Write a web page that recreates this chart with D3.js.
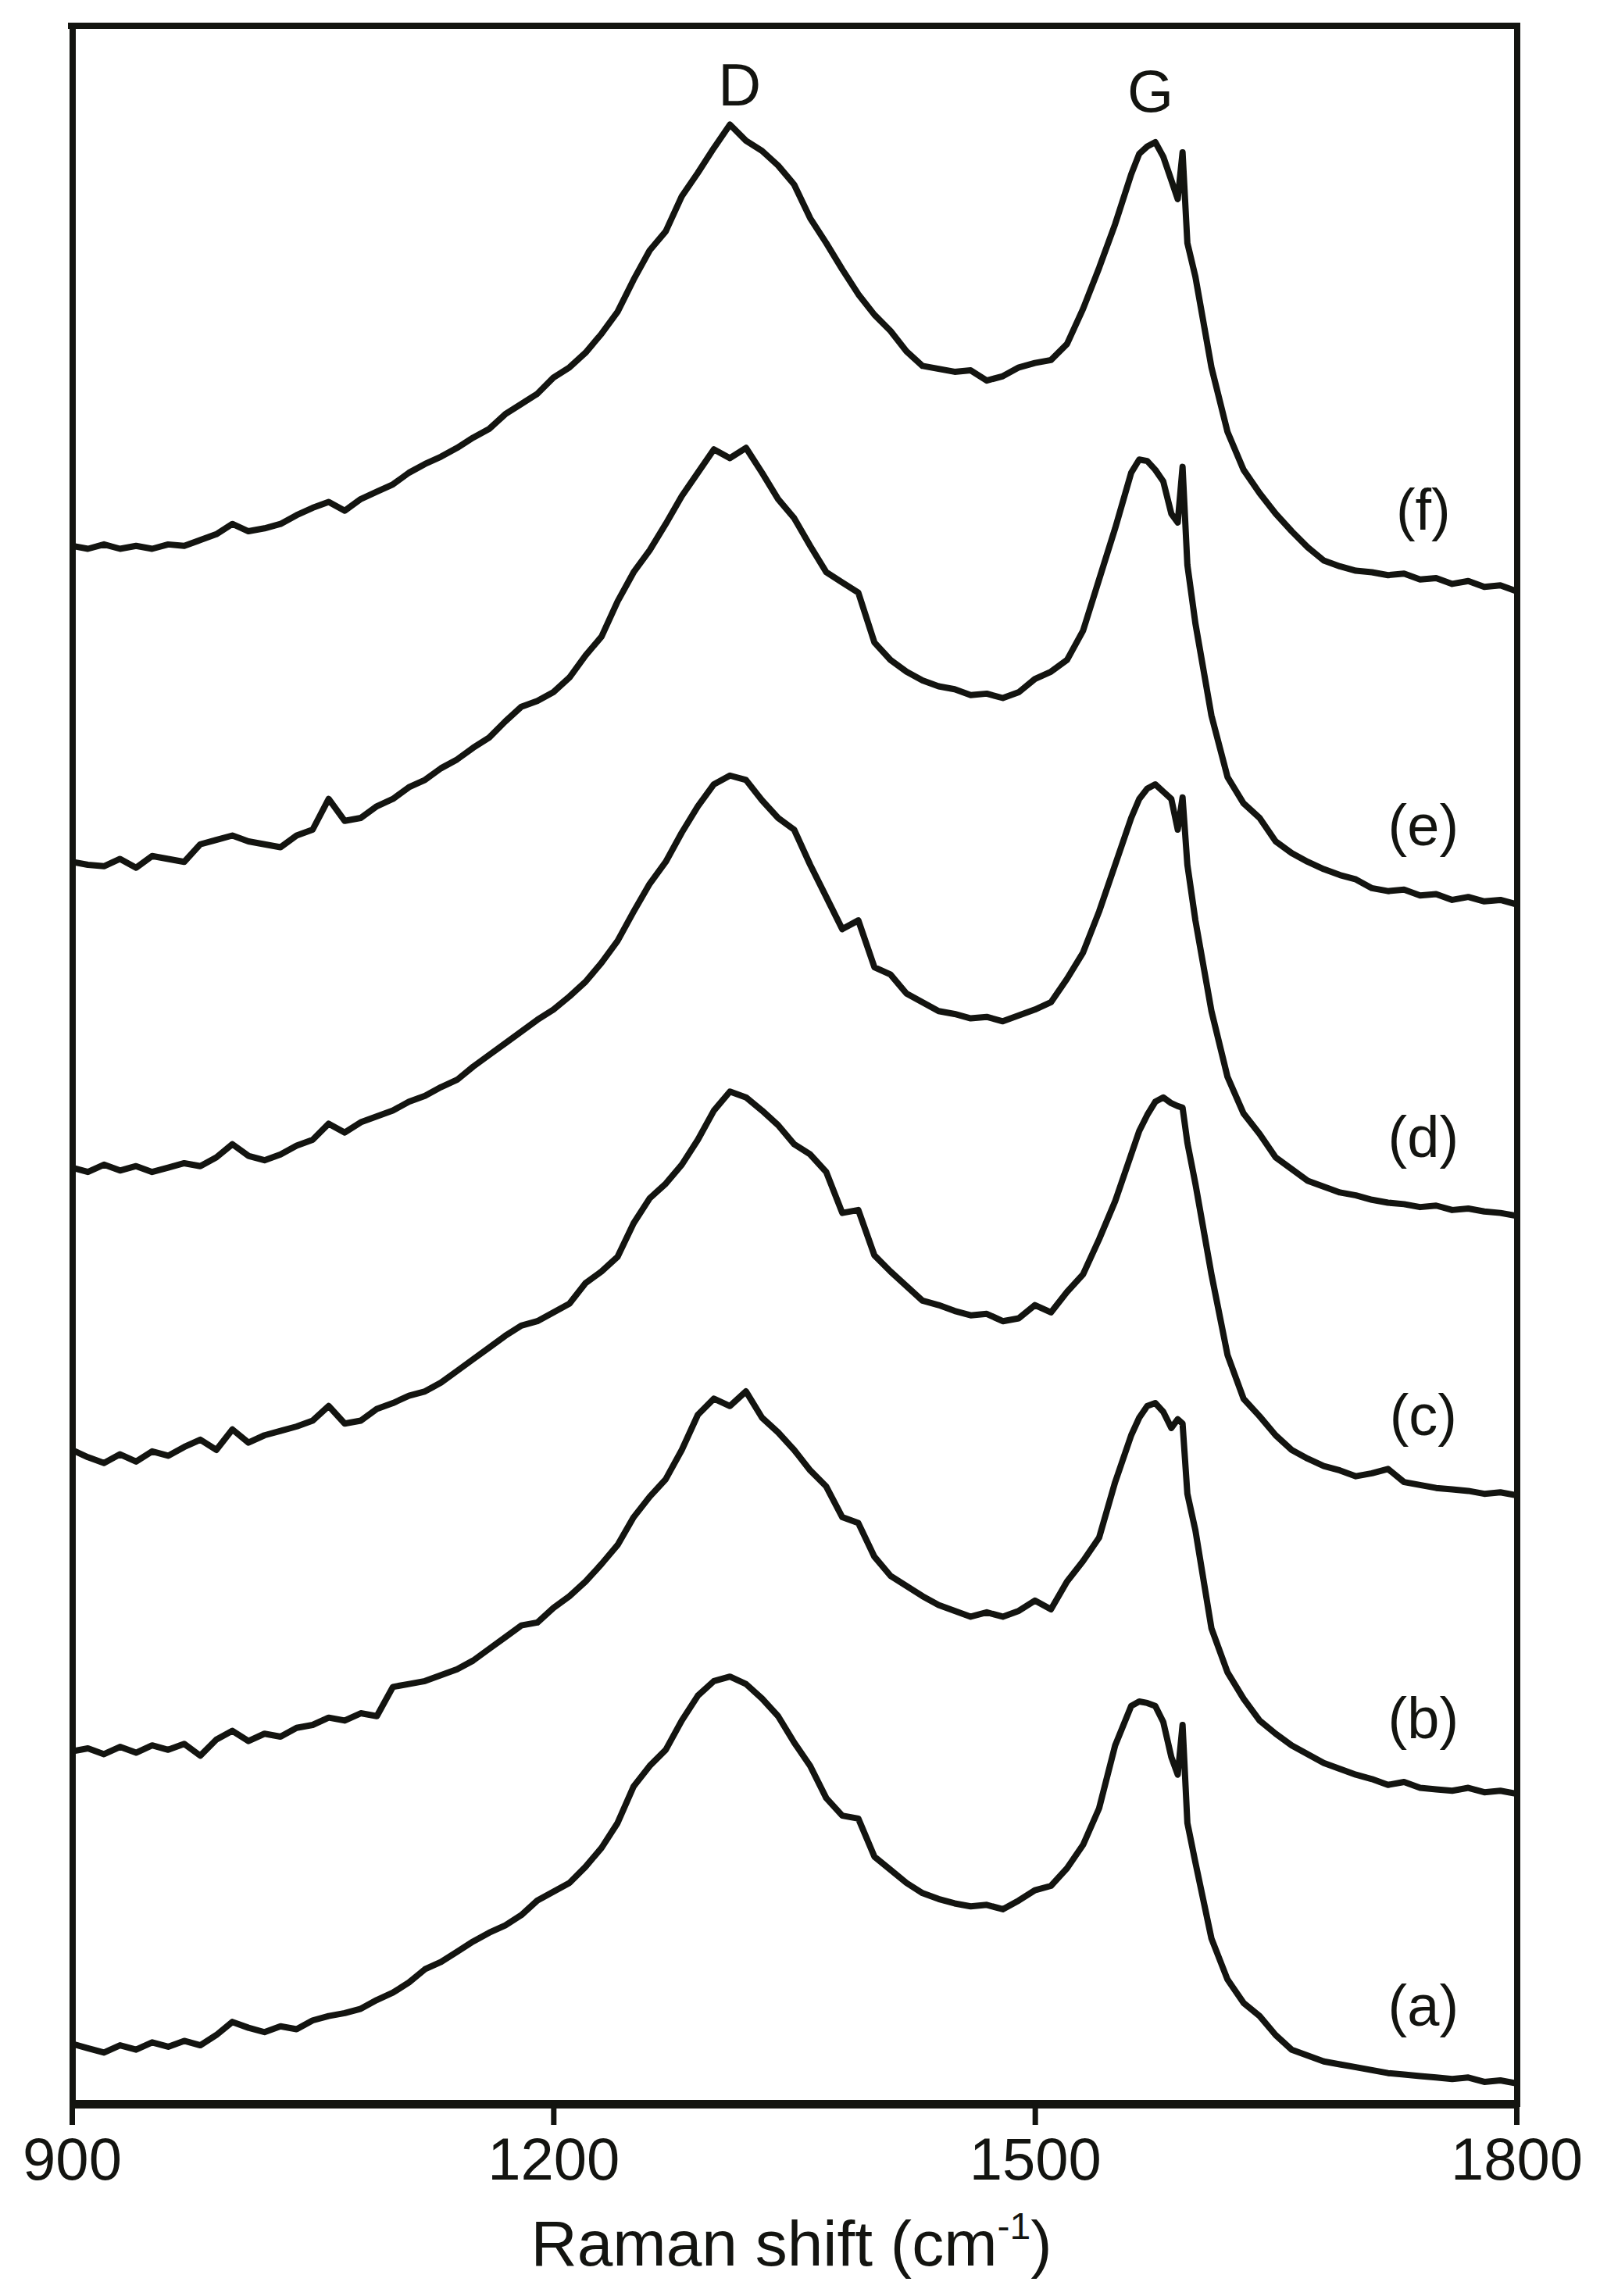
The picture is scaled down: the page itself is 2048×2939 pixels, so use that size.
<!DOCTYPE html>
<html>
<head>
<meta charset="utf-8">
<script src="https://cdn.jsdelivr.net/npm/d3@7"></script>
<style>
  html, body { margin: 0; padding: 0; background: #ffffff; }
  svg { display: block; font-family: "Liberation Sans", Arial, Helvetica, sans-serif; }
</style>
</head>
<body>
<svg id="chart" width="2048" height="2939"></svg>
<script>
// ---------------- data ----------------
// Raman shift, cm-1
const wavenumbers = [
  900, 910, 920, 930, 940, 950, 960, 970, 980, 990,
  1000, 1010, 1020, 1030, 1040, 1050, 1060, 1070, 1080, 1090,
  1100, 1110, 1120, 1130, 1140, 1150, 1160, 1170, 1180, 1190,
  1200, 1210, 1220, 1230, 1240, 1250, 1260, 1270, 1280, 1290,
  1300, 1310, 1320, 1330, 1340, 1350, 1360, 1370, 1380, 1390,
  1400, 1410, 1420, 1430, 1440, 1450, 1460, 1470, 1480, 1490,
  1500, 1510, 1520, 1530, 1540, 1550, 1560,
  1565, 1570, 1575, 1580, 1585, 1589, 1592, 1595,
  1600, 1610, 1620, 1630, 1640, 1650, 1660, 1670, 1680, 1690,
  1700, 1710, 1720, 1730, 1740, 1750, 1760, 1770, 1780, 1790, 1800
];

// Intensities (a.u., stacked as plotted)
const seriesA = [
  41, 38, 35, 40, 37, 42, 39, 43, 40, 47,
  56, 52, 49, 53, 51, 57, 60, 62, 65, 71,
  76, 83, 92, 97, 104, 111, 117, 122, 129, 139,
  145, 151, 162, 175, 192, 217, 231, 242, 262, 279,
  289, 292, 287, 277, 265, 247, 231, 209, 197, 195,
  169, 160, 151, 144, 140, 137, 135, 136, 133, 139,
  146, 149, 161, 177, 202, 245, 272,
  275, 274, 272, 261, 237, 225, 259, 192,
  165, 113, 85, 69, 60, 47, 37, 33, 29, 27,
  25, 23, 21, 20, 19, 18, 17, 18, 15, 16, 14
];
const seriesB = [
  241, 243, 239, 244, 240, 245, 242, 246, 238, 249,
  255, 248, 253, 251, 257, 259, 264, 262, 267, 265,
  285, 287, 289, 293, 297, 303, 311, 319, 327, 329,
  339, 347, 357, 369, 382, 401, 415, 427, 447, 471,
  482, 477, 487, 469, 459, 447, 433, 422, 401, 397,
  374, 361, 354, 347, 341, 337, 333, 336, 333, 337,
  344, 338, 357, 371, 387, 425, 457,
  469, 477, 479, 473, 462, 468, 465, 417,
  392, 325, 295, 277, 262, 253, 245, 239, 233, 229,
  225, 222, 218, 220, 216, 215, 214, 216, 213, 214, 212
];
const seriesC = [
  447, 442, 438, 444, 439, 446, 443, 449, 454, 447,
  461, 452, 457, 460, 463, 467, 477, 465, 467, 475,
  479, 484, 487, 493, 501, 509, 517, 525, 532, 535,
  541, 547, 561, 569, 579, 602, 619, 629, 642, 659,
  679, 692, 688, 679, 669, 656, 649, 637, 609, 611,
  580, 569, 559, 549, 546, 542, 539, 540, 535, 537,
  546, 541, 555, 567, 591, 617, 649,
  665, 676, 685, 688, 684, 682, 681, 657,
  629, 567, 512, 482, 470, 457, 447, 441, 436, 433,
  429, 431, 434, 425, 423, 421, 420, 419, 417, 418, 416
];
const seriesD = [
  640, 637, 642, 638, 641, 637, 640, 643, 641, 647,
  656, 648, 645, 649, 655, 659, 670, 664, 671, 675,
  679, 685, 689, 695, 700, 709, 717, 725, 733, 741,
  748, 757, 767, 780, 795, 815, 834, 849, 869, 887,
  902, 908, 905, 891, 879, 871, 847, 825, 803, 809,
  777, 772, 759, 753, 747, 745, 742, 743, 740, 744,
  748, 753, 769, 787, 815, 847, 879,
  892, 899, 902, 897, 892, 871, 893, 847,
  809, 747, 702, 677, 663, 647, 639, 631, 627, 623,
  621, 618, 616, 615, 613, 614, 611, 612, 610, 609, 607
];
const seriesE = [
  849, 847, 846, 851, 845, 853, 851, 849, 861, 864,
  867, 863, 861, 859, 867, 871, 892, 877, 879, 887,
  892, 900, 905, 913, 919, 927, 934, 945, 955, 959,
  965, 975, 990, 1003, 1027, 1047, 1062, 1080, 1099, 1115,
  1131, 1125, 1132, 1115, 1097, 1084, 1065, 1047, 1040, 1033,
  999, 987, 979, 973, 969, 967, 963, 964, 961, 965,
  974, 979, 987, 1007, 1042, 1077, 1115,
  1124, 1123, 1117, 1109, 1087, 1081, 1119, 1052,
  1012, 949, 907, 889, 879, 863, 855, 849, 844, 840,
  837, 831, 829, 830, 826, 827, 823, 825, 822, 823, 820
];
const seriesF = [
  1065, 1063, 1066, 1063, 1065, 1063, 1066, 1065, 1069, 1073,
  1080, 1075, 1077, 1080, 1086, 1091, 1095, 1089, 1097, 1102,
  1107, 1115, 1121, 1126, 1132, 1139, 1145, 1155, 1162, 1169,
  1180, 1187, 1197, 1210, 1225, 1247, 1267, 1280, 1304, 1320,
  1337, 1353, 1342, 1335, 1325, 1312, 1289, 1272, 1254, 1237,
  1223, 1212, 1198, 1188, 1186, 1184, 1185, 1178, 1181, 1187,
  1190, 1192, 1203, 1227, 1255, 1285, 1319,
  1333, 1338, 1341, 1331, 1315, 1302, 1334, 1272,
  1249, 1187, 1143, 1117, 1101, 1087, 1075, 1064, 1055, 1051,
  1048, 1047, 1045, 1046, 1042, 1043, 1039, 1041, 1037, 1038, 1034
];

const seriesNames = ["(a)", "(b)", "(c)", "(d)", "(e)", "(f)"];
const xTicks = [900, 1200, 1500, 1800];
const peakNames = ["D", "G"];
const peakPositions = [1316, 1572];

// ---------------- layout ----------------
const W = 2048, H = 2939;
const plot = { left: 92, right: 1941, top: 34, bottom: 2693 };
const ink = "#131410";

const svg = d3.select("#chart");
svg.append("rect").attr("width", W).attr("height", H).attr("fill", "#ffffff");

const x = d3.scaleLinear().domain([900, 1800]).range([plot.left, plot.right]);
const y = d3.scaleLinear().domain([0, 1420]).range([plot.bottom, plot.top]);

svg.append("defs").append("clipPath").attr("id", "plotclip")
  .append("rect")
  .attr("x", plot.left).attr("y", plot.top)
  .attr("width", plot.right - plot.left).attr("height", plot.bottom - plot.top);

const allSeries = [seriesA, seriesB, seriesC, seriesD, seriesE, seriesF];

const line = d3.line()
  .x((d, i) => x(wavenumbers[i]))
  .y(d => y(d));

const gLines = svg.append("g").attr("clip-path", "url(#plotclip)");
allSeries.forEach(vals => {
  gLines.append("path")
    .attr("d", line(vals))
    .attr("fill", "none")
    .attr("stroke", ink)
    .attr("stroke-width", 8)
    .attr("stroke-linejoin", "round")
    .attr("stroke-linecap", "round");
});

// frame (top, left, right)
svg.append("line").attr("x1", plot.left - 5).attr("x2", plot.right + 5)
  .attr("y1", plot.top - 1).attr("y2", plot.top - 1)
  .attr("stroke", ink).attr("stroke-width", 8);
svg.append("line").attr("x1", plot.left + 1).attr("x2", plot.left + 1)
  .attr("y1", plot.top - 4).attr("y2", plot.bottom + 4)
  .attr("stroke", ink).attr("stroke-width", 8);
svg.append("line").attr("x1", plot.right + 1).attr("x2", plot.right + 1)
  .attr("y1", plot.top - 4).attr("y2", plot.bottom + 4)
  .attr("stroke", ink).attr("stroke-width", 8);

// bottom axis
const xAxis = d3.axisBottom(x)
  .tickValues(xTicks)
  .tickFormat(d3.format("d"))
  .tickSize(27)
  .tickSizeOuter(0)
  .tickPadding(16);
const gx = svg.append("g")
  .attr("transform", `translate(0,${plot.bottom})`)
  .call(xAxis);
gx.select(".domain").attr("stroke", ink).style("stroke-width", "11px");
gx.selectAll(".tick line").attr("stroke", ink).style("stroke-width", "7px");
gx.selectAll(".tick text")
  .attr("fill", ink)
  .style("font-size", "76px")
  .style("font-family", "'Liberation Sans', Arial, sans-serif");

// axis title
const title = svg.append("text")
  .attr("x", 1013).attr("y", 2900)
  .attr("text-anchor", "middle")
  .attr("fill", ink)
  .style("font-size", "82px");
title.append("tspan").text("Raman shift (cm");
title.append("tspan").text("-1").attr("dy", -34).style("font-size", "48px");
title.append("tspan").text(")").attr("dy", 34);

// peak labels
peakNames.forEach((p, i) => {
  svg.append("text")
    .attr("x", x(peakPositions[i]))
    .attr("y", y(1366 - i * 4))
    .attr("text-anchor", "middle")
    .attr("fill", ink)
    .style("font-size", "76px")
    .text(p);
});

// series labels, placed above each trace's tail
const labelWn = 1740;
const labelIdx = wavenumbers.indexOf(labelWn);
allSeries.forEach((vals, i) => {
  svg.append("text")
    .attr("x", x(1742))
    .attr("y", y(vals[labelIdx] + 48))
    .attr("dy", "0.35em")
    .attr("text-anchor", "middle")
    .attr("fill", ink)
    .style("font-size", "74px")
    .text(seriesNames[i]);
});
</script>
</body>
</html>
